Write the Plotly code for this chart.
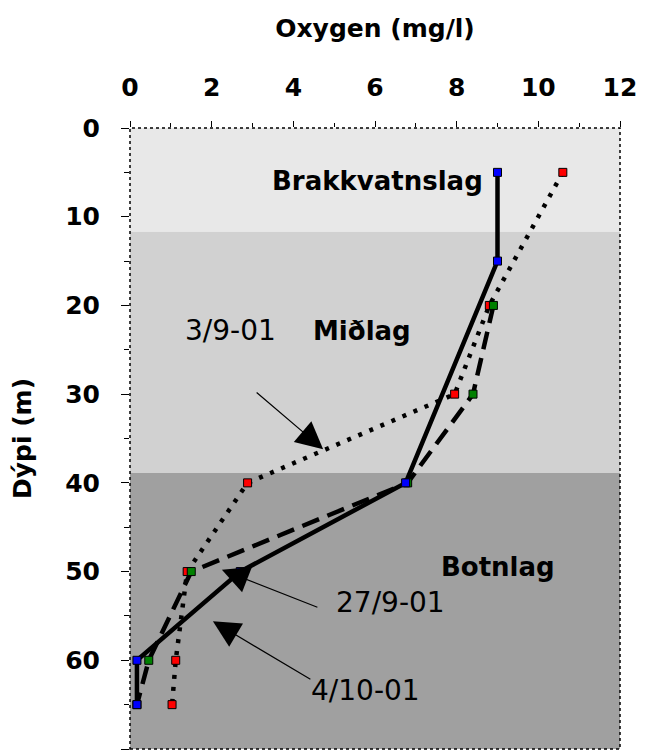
import plotly.graph_objects as go

# Oxygen profiles (mg/l) against depth (m)
depth_0410 = [5, 15, 40, 50, 60, 65]
oxy_0410 = [9.0, 9.0, 6.75, 2.7, 0.17, 0.17]

depth_2709 = [20, 30, 40, 50, 60, 65]
oxy_2709 = [8.9, 8.4, 6.8, 1.5, 0.46, 0.17]

depth_0309 = [5, 20, 30, 40, 50, 60, 65]
oxy_0309 = [10.6, 8.8, 7.95, 2.88, 1.4, 1.12, 1.03]

# Water layers: (top, bottom, colour)
layer_tops = [0, 11.7, 38.9]
layer_bottoms = [11.7, 38.9, 70]
layer_colors = ["#e8e8e8", "#d1d1d1", "#a0a0a0"]

x_ticks = [0, 2, 4, 6, 8, 10, 12]
y_ticks = [0, 10, 20, 30, 40, 50, 60, 70]

fig = go.Figure()

fig.add_trace(go.Scatter(
    x=oxy_0309, y=depth_0309, mode="lines+markers", name="3/9-01",
    line=dict(color="black", width=4.5, dash="4px,8px"),
    marker=dict(symbol="square", size=8, color="red", line=dict(color="black", width=1)),
))
fig.add_trace(go.Scatter(
    x=oxy_2709, y=depth_2709, mode="lines+markers", name="27/9-01",
    line=dict(color="black", width=4.5, dash="18px,9px"),
    marker=dict(symbol="square", size=8, color="green", line=dict(color="black", width=1)),
))
fig.add_trace(go.Scatter(
    x=oxy_0410, y=depth_0410, mode="lines+markers", name="4/10-01",
    line=dict(color="black", width=4.5),
    marker=dict(symbol="square", size=8, color="blue", line=dict(color="black", width=1)),
))

shapes = []
for top, bot, col in zip(layer_tops, layer_bottoms, layer_colors):
    shapes.append(dict(type="rect", xref="paper", yref="y", x0=0, x1=1, y0=top, y1=bot,
                       fillcolor=col, line=dict(width=0), layer="below"))
shapes.append(dict(type="rect", xref="paper", yref="paper", x0=0, x1=1, y0=0, y1=1,
                   line=dict(color="black", width=1.5, dash="dot"), layer="above"))

bold = dict(family="DejaVu Sans", size=26, color="black", weight="bold")
plain = dict(family="DejaVu Sans", size=28, color="black")

annotations = [
    dict(x=6.05, y=6.0, text="Brakkvatnslag", showarrow=False, font=bold),
    dict(x=5.68, y=22.9, text="Miðlag", showarrow=False, font=bold),
    dict(x=9.0, y=49.5, text="Botnlag", showarrow=False, font=bold),
    dict(x=2.45, y=22.8, text="3/9-01", showarrow=False, font=plain),
    dict(x=6.37, y=53.5, text="27/9-01", showarrow=False, font=plain),
    dict(x=5.76, y=63.4, text="4/10-01", showarrow=False, font=plain),
    dict(x=4.73, y=36.2, ax=-68, ay=-58, text="", showarrow=True,
         arrowhead=2, arrowsize=4.5, arrowwidth=1.2, arrowcolor="black"),
    dict(x=2.25, y=49.8, ax=97, ay=38, text="", showarrow=True,
         arrowhead=2, arrowsize=4.5, arrowwidth=1.2, arrowcolor="black"),
    dict(x=2.03, y=55.6, ax=99, ay=59, text="", showarrow=True,
         arrowhead=2, arrowsize=4.5, arrowwidth=1.2, arrowcolor="black"),
]

tick_font = dict(family="DejaVu Sans", size=25, color="black", weight="bold")
title_font = dict(family="DejaVu Sans", size=25, color="black", weight="bold")

fig.update_layout(
    width=646, height=756,
    margin=dict(l=130, r=26, t=128, b=7),
    paper_bgcolor="white", plot_bgcolor="white",
    showlegend=False,
    shapes=shapes,
    annotations=annotations,
    xaxis=dict(
        side="top", range=[0, 12], tickvals=x_ticks,
        ticks="outside", ticklen=6, tickcolor="black", tickwidth=1,
        minor=dict(dtick=1, ticks="outside", ticklen=4, tickcolor="black"),
        showgrid=False, zeroline=False, showline=False,
        tickfont=tick_font, ticklabelstandoff=15,
        title=dict(text="Oxygen (mg/l)", font=title_font, standoff=28),
    ),
    yaxis=dict(
        range=[70, 0], tickvals=y_ticks,
        ticks="outside", ticklen=8, tickcolor="black", tickwidth=1,
        minor=dict(dtick=5, ticks="outside", ticklen=5, tickcolor="black"),
        showgrid=False, zeroline=False, showline=False,
        tickfont=tick_font, ticklabelstandoff=16,
        title=dict(text="Dýpi (m)", font=title_font, standoff=26),
    ),
)

fig.write_html("out.html")
